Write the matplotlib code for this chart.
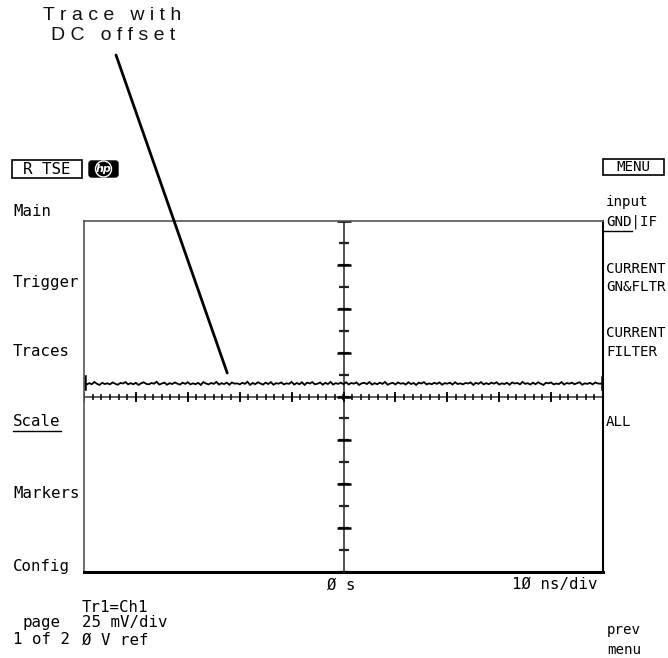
import matplotlib.pyplot as plt
import numpy as np
from matplotlib.patches import Rectangle, FancyBboxPatch, Ellipse

W, H = 668, 658

# trace samples (mV): ~7.4 mV DC offset with small noise
trace_mv = [7.9, 6.8, 7.6, 7.0, 8.3, 7.2, 6.6, 7.8, 7.1, 7.5,
            6.9, 8.0, 7.3, 6.7, 7.7, 7.4, 8.2, 6.9, 7.6, 7.0,
            7.8, 6.6, 7.5, 8.1, 7.2, 6.9, 7.7, 7.3, 8.4, 6.8,
            7.4, 7.9, 6.7, 7.6, 7.1, 8.0, 7.3, 6.8, 7.9, 7.2,
            8.1, 6.9, 7.5, 7.0, 7.8, 6.6, 8.2, 7.4, 6.9, 7.7,
            7.2, 8.3, 6.8, 7.6, 7.1, 7.9, 6.7, 8.0, 7.3, 7.5,
            6.9, 7.8, 7.2, 8.4, 6.6, 7.7, 7.0, 8.1, 7.4, 6.8,
            7.9, 7.1, 8.2, 6.7, 7.6, 7.3, 8.0, 6.9, 7.5, 7.2,
            8.3, 6.8, 7.7, 7.0, 8.1, 6.6, 7.9, 7.4, 8.2, 6.9,
            7.3, 8.0, 6.7, 7.8, 7.1, 8.3, 6.8, 7.6, 7.2, 7.9,
            7.0, 8.1, 6.9, 7.7, 7.3, 8.0, 6.6, 7.5, 7.8, 7.1,
            8.2, 6.8, 7.6, 7.0, 7.9, 7.2, 8.3, 6.7, 7.4, 7.8,
            6.9, 8.0, 7.3, 7.6, 6.8, 8.1, 7.1, 7.7, 6.6, 7.9,
            7.4, 8.2, 6.9, 7.5, 7.0, 7.8, 7.2, 8.0, 6.7, 7.6,
            7.3, 7.9, 6.8, 8.1, 7.1, 7.5, 6.9, 7.7, 7.4, 8.0,
            6.6, 7.8, 7.2, 8.2, 6.9, 7.6, 7.0, 7.9, 7.3, 8.1,
            6.8, 7.5, 7.1, 7.8, 6.7, 8.0, 7.4, 7.7, 6.9, 8.3,
            7.2, 7.6, 6.8, 7.9, 7.0, 8.1, 7.3, 6.6, 7.8, 7.5,
            8.0, 6.9, 7.4, 7.1, 8.2, 6.8, 7.7, 7.3, 7.9, 7.0,
            7.6, 8.1, 6.7, 7.5, 7.2, 7.8, 6.9, 8.0, 7.4, 7.3, 7.5]

ns_per_div = 10
mv_per_div = 25
h_divs = 10
v_divs = 8

left_menu = [("Main", 212), ("Trigger", 282), ("Traces", 352),
             ("Scale", 422), ("Markers", 493), ("Config", 567)]
right_menu = [("input", 202), ("CURRENT", 269), ("GN&FLTR", 287),
              ("CURRENT", 333), ("FILTER", 352), ("ALL", 422)]

MONO = "DejaVu Sans Mono"
FS = 11.3
FS_R = 10.2


def fx(px):
    return px / W


def fy(py):
    return 1 - py / H


fig = plt.figure(figsize=(W / 100, H / 100), dpi=100)
ax = fig.add_axes([fx(84), fy(572), fx(603) - fx(84), fy(221) - fy(572)])
xr = ns_per_div * h_divs / 2
yr = mv_per_div * v_divs / 2
ax.set_xlim(-xr, xr)
ax.set_ylim(-yr, yr)
ax.set_xticks([])
ax.set_yticks([])
for s in ["left", "top"]:
    ax.spines[s].set_color("#555555")
    ax.spines[s].set_linewidth(1.2)
ax.spines["bottom"].set_linewidth(2.2)
ax.spines["right"].set_linewidth(1.5)
ax.spines["bottom"].set_color("black")
ax.spines["right"].set_color("black")

# centre cross
ax.axvline(0, color="#444444", lw=1.3)
ax.axhline(0, color="#444444", lw=1.2)

# ticks along horizontal centre line
minor_x = np.arange(-xr, xr + 1e-9, ns_per_div / 6)
major_x = np.arange(-xr, xr + 1e-9, ns_per_div)
ax.plot(minor_x, np.zeros_like(minor_x), ls="none", marker="|", ms=5, mew=1.1, color="black")
ax.plot(major_x, np.zeros_like(major_x), ls="none", marker="|", ms=7.5, mew=1.3, color="black")

# ticks along vertical centre line
minor_y = np.arange(-yr, yr + 1e-9, mv_per_div / 2)
major_y = np.arange(-yr, yr + 1e-9, mv_per_div)
ax.plot(np.zeros_like(minor_y), minor_y, ls="none", marker="_", ms=6.5, mew=1.6, color="#222222")
ax.plot(np.zeros_like(major_y), major_y, ls="none", marker="_", ms=9.5, mew=1.8, color="black")

# trace
t = np.linspace(-xr, xr, len(trace_mv))
ax.plot(t, trace_mv, color="black", lw=1.3, solid_joinstyle="miter")
ax.plot([-xr + 0.2, -xr + 0.2], [trace_mv[0] - 3.5, trace_mv[0] + 3.5], color="black", lw=1.8)
ax.plot([xr - 0.2, xr - 0.2], [trace_mv[-1] - 3.5, trace_mv[-1] + 3.5], color="black", lw=1.8)

# annotation
ax.annotate("", xy=(-22.4, 13.4), xytext=(fx(116), fy(55)), textcoords="figure fraction",
            arrowprops=dict(arrowstyle="-", lw=2, color="black", shrinkA=0, shrinkB=0))
fig.text(fx(112), fy(16), "T r a c e   w i t h", family="Liberation Sans", fontsize=14,
         ha="center", va="center", color="#111111")
fig.text(fx(113), fy(36), "D C   o f f s e t", family="Liberation Sans", fontsize=14,
         ha="center", va="center", color="#111111")

# header boxes
fig.add_artist(Rectangle((fx(12), fy(178)), fx(82) - fx(12), fy(160) - fy(178),
                         transform=fig.transFigure, fill=False, lw=1.2, ec="black"))
fig.text(fx(47), fy(169), "R TSE", family=MONO, fontsize=FS, ha="center", va="center")
fig.add_artist(FancyBboxPatch((fx(89), fy(177)), fx(118) - fx(89), fy(161) - fy(177),
                              boxstyle="round,pad=0,rounding_size=0.004",
                              transform=fig.transFigure, fc="black", ec="black"))
fig.add_artist(Ellipse((fx(103.5), fy(169)), fx(16), fx(16) * W / H,
                       transform=fig.transFigure, fill=False, ec="white", lw=1))
fig.text(fx(103.5), fy(169), "hp", fontsize=8, style="italic", weight="bold",
         color="white", ha="center", va="center")
fig.add_artist(Rectangle((fx(603), fy(175)), fx(664) - fx(603), fy(159) - fy(175),
                         transform=fig.transFigure, fill=False, lw=1.2, ec="black"))
fig.text(fx(633), fy(167), "MENU", family=MONO, fontsize=FS_R, ha="center", va="center")

# softkey labels
for lab, y in left_menu:
    fig.text(fx(13), fy(y), lab, family=MONO, fontsize=FS, ha="left", va="center")
    if lab == "Scale":
        fig.add_artist(plt.Line2D([fx(13), fx(61)], [fy(y + 9), fy(y + 9)],
                                  transform=fig.transFigure, color="black", lw=1))
for lab, y in right_menu:
    fig.text(fx(606), fy(y), lab, family=MONO, fontsize=FS_R, ha="left", va="center")
fig.text(fx(606), fy(222), "GND|IF", family=MONO, fontsize=FS_R, ha="left", va="center")
fig.add_artist(plt.Line2D([fx(603), fx(632)], [fy(231), fy(231)],
                          transform=fig.transFigure, color="black", lw=1))

# bottom annotations
fig.text(fx(327), fy(585), "Ø s", family=MONO, fontsize=FS, ha="left", va="center")
fig.text(fx(598), fy(585), "1Ø ns/div", family=MONO, fontsize=FS, ha="right", va="center")
fig.text(fx(82), fy(607), "Tr1=Ch1", family=MONO, fontsize=FS, ha="left", va="center")
fig.text(fx(23), fy(623), "page", family=MONO, fontsize=FS, ha="left", va="center")
fig.text(fx(82), fy(623), "25 mV/div", family=MONO, fontsize=FS, ha="left", va="center")
fig.text(fx(13), fy(640), "1 of 2", family=MONO, fontsize=FS, ha="left", va="center")
fig.text(fx(82), fy(640), "Ø V ref", family=MONO, fontsize=FS, ha="left", va="center")
fig.text(fx(607), fy(630), "prev", family=MONO, fontsize=FS_R, ha="left", va="center")
fig.text(fx(607), fy(650), "menu", family=MONO, fontsize=FS_R, ha="left", va="center")

fig.savefig("out.png", dpi=100)
